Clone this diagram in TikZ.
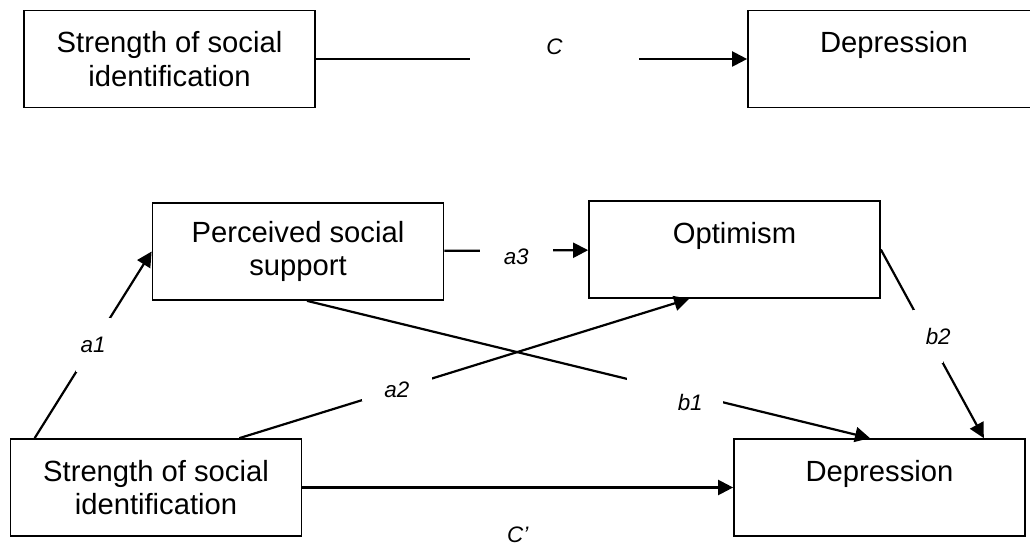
\documentclass[tikz,border=0pt]{standalone}
\usepackage{fontspec}
\setmainfont{Liberation Sans}
\usetikzlibrary{arrows.meta}
\begin{document}
\begin{tikzpicture}[x=0.5pt,y=-0.5pt,
			box/.style={draw,line width=0.85pt,minimum width=145.5pt,minimum height=48.5pt,inner sep=0pt,align=center,font=\fontsize{14.6}{16.8}\selectfont},
			arr/.style={line width=1.1pt,-{Triangle[length=7.5pt,width=7.5pt]}},
			gap/.style={fill=white,inner sep=0pt},
			lbl/.style={inner sep=0pt,font=\fontsize{11.2}{13}\selectfont\itshape}]
			\useasboundingbox(0,0)rectangle(1030,545);
			\clip(0,0)rectangle(1030,545);
			% total effect
			\node[box](ssiA)at(169.5,59){Strength of social\\identification};
			\node[box,minimum width=146pt](depA)at(894,59){Depression\\~};
			\draw[arr](ssiA)--node[gap,pos=.553,minimum width=84.5pt,minimum height=4pt]{}node[lbl,pos=.553,yshift=6pt]{C}(depA);
			% mediation
			\node[box](pss)at(298,251.5){Perceived social\\support};
			\node[box](opt)at(734.5,249.5){Optimism\\~};
			\node[box](ssiB)at(156,487.5){Strength of social\\identification};
			\node[box](depB)at(879.5,487.5){Depression\\~};
			\draw[arr]([xshift=12.5pt]ssiB.north west)--node[gap,lbl,minimum width=17.5pt,minimum height=27pt]{a1}(pss.west);
			\draw[arr]([xshift=-31.5pt]ssiB.north east)--node[gap,lbl,pos=.35,minimum width=35pt,minimum height=12pt]{a2}([xshift=50.5pt]opt.south west);
			\draw[arr](pss)--node[gap,minimum width=36.5pt,minimum height=4pt]{}node[lbl,yshift=-3pt]{a3}(opt);
			\draw[arr]([xshift=4.5pt]pss.south)--node[gap,pos=.654,minimum width=48pt,minimum height=14pt]{}node[lbl,pos=.654,xshift=7.5pt,yshift=-6pt]{b1}([xshift=-4.75pt]depB.north);
			\draw[arr](opt.east)--node[gap,pos=.46,minimum width=15pt,minimum height=26.5pt]{}node[lbl,pos=.46,xshift=5pt]{b2}([xshift=-21pt]depB.north east);
			\draw[arr](ssiB)--node[lbl,yshift=-23.5pt]{C’}(depB);
		\end{tikzpicture}
\end{document}
